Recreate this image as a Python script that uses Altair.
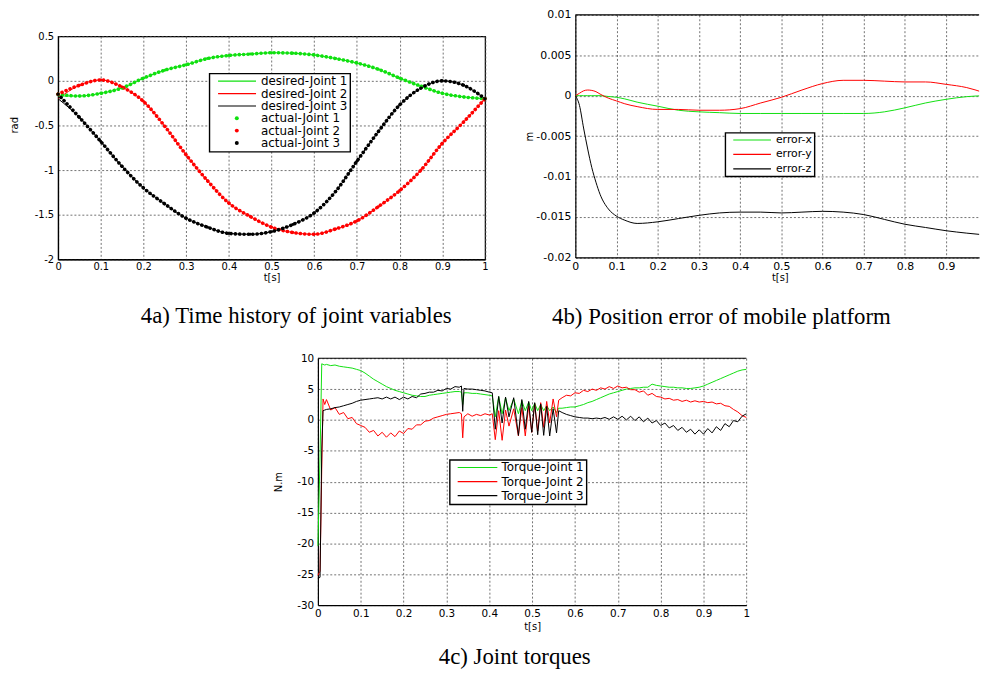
import altair as alt
import pandas as pd

FONT = "DejaVu Sans"
SERIF = "Liberation Serif"
GREEN = "#10e010"
RED = "#ff0000"
BLACK = "#000000"
GRID = "#505050"

# ---------------- 4a) joint variables ----------------
t_a = [0.0, 0.05, 0.1, 0.15, 0.2, 0.25, 0.3, 0.35, 0.4, 0.45, 0.5,
       0.55, 0.6, 0.65, 0.7, 0.75, 0.8, 0.85, 0.9, 0.95, 1.0]
act_j1 = [-0.15, -0.17, -0.14, -0.08, 0.03, 0.12, 0.18, 0.25, 0.285, 0.30, 0.315,
          0.31, 0.29, 0.25, 0.20, 0.13, 0.03, -0.06, -0.14, -0.18, -0.20]
act_j2 = [-0.15, -0.05, 0.01, -0.07, -0.23, -0.51, -0.83, -1.12, -1.37, -1.52, -1.64,
          -1.70, -1.72, -1.66, -1.57, -1.41, -1.23, -1.00, -0.70, -0.46, -0.20]
act_j3 = [-0.15, -0.41, -0.68, -0.96, -1.20, -1.38, -1.54, -1.64, -1.71, -1.72, -1.69,
          -1.61, -1.48, -1.24, -0.90, -0.57, -0.27, -0.08, 0.00, -0.05, -0.20]
des_start = [-0.17, -0.20, -0.20]
names_des = ["desired-Joint 1", "desired-Joint 2", "desired-Joint 3"]
names_act = ["actual-Joint 1", "actual-Joint 2", "actual-Joint 3"]
xt_a = [0, 0.1, 0.2, 0.3, 0.4, 0.5, 0.6, 0.7, 0.8, 0.9, 1]
yt_a = [-2, -1.5, -1, -0.5, 0, 0.5]

# ---------------- 4b) position error ----------------
t_b = [0, 0.01, 0.02, 0.03, 0.04, 0.05, 0.06, 0.08, 0.10, 0.12, 0.15, 0.20, 0.25, 0.30,
       0.35, 0.40, 0.45, 0.50, 0.55, 0.60, 0.65, 0.70, 0.75, 0.80, 0.85, 0.90, 0.95, 0.99]
err_x = [0, 0, 0, 0, 0, 0, 0, -0.0001, -0.0002, -0.0004, -0.0008, -0.0013, -0.0018, -0.0020,
         -0.0021, -0.0022, -0.0022, -0.0022, -0.0022, -0.0022, -0.0022, -0.0022, -0.0020,
         -0.0015, -0.0009, -0.00045, -0.00012, 0.0]
err_y = [0, 0.0003, 0.0006, 0.0007, 0.00065, 0.0005, 0.0002, -0.0003, -0.00065, -0.0010,
         -0.00135, -0.0017, -0.0017, -0.0018, -0.0018, -0.0016, -0.0009, -0.0002, 0.0007,
         0.0015, 0.0019, 0.0019, 0.0018, 0.0017, 0.0017, 0.0014, 0.0010, 0.0004]
err_z = [0, -0.0012, -0.0040, -0.0066, -0.0089, -0.0107, -0.0122, -0.0140, -0.0149, -0.0154,
         -0.0158, -0.0156, -0.0152, -0.0148, -0.0145, -0.0144, -0.0144, -0.0145, -0.0144,
         -0.0143, -0.0144, -0.0147, -0.0153, -0.0159, -0.0163, -0.0167, -0.0170, -0.0172]
names_b = ["error-x", "error-y", "error-z"]
xt_b = [0, 0.1, 0.2, 0.3, 0.4, 0.5, 0.6, 0.7, 0.8, 0.9]
yt_b = [-0.02, -0.015, -0.01, -0.005, 0, 0.005, 0.01]

# ---------------- 4c) joint torques ----------------
t_c = ([0.0, 0.005, 0.009, 0.012, 0.016, 0.02]
       + [round(0.03 + 0.01 * i, 3) for i in range(31)]
       + [0.335, 0.338, 0.341]
       + [round(0.35 + 0.01 * i, 3) for i in range(6)]
       + [0.407, 0.414, 0.422, 0.430, 0.438, 0.446, 0.457, 0.468, 0.476, 0.484, 0.492,
          0.499, 0.506, 0.513, 0.520, 0.527, 0.534, 0.541, 0.549, 0.557, 0.562]
       + [round(0.57 + 0.01 * i, 3) for i in range(44)])
tq_1 = ([-20.4, -6.0, 9.1, 9.0, 8.9, 9.0]
        + [8.8, 8.9, 8.7, 8.6, 8.5, 8.4, 8.2, 8.0, 7.6, 7.1,
           6.6, 6.2, 5.8, 5.4, 5.1, 4.8, 4.6, 4.4, 4.2, 4.0,
           3.9, 3.8, 3.8, 4.0, 4.1, 4.2, 4.3, 4.4, 4.5, 4.6, 4.6]
        + [4.5, 2.5, 4.4]
        + [4.4, 4.3, 4.3, 4.2, 4.1, 4.0]
        + [3.9, 0.5, 3.8, 1.0, 3.6, 1.5, 3.4, 1.0, 3.1, 1.5, 2.9,
           1.5, 2.7, 1.5, 2.5, 1.5, 2.3, 1.5, 2.1, 1.2, 1.9]
        + [1.9, 2.0, 2.1, 2.1, 2.3, 2.5, 2.8, 3.0, 3.3, 3.6,
           3.9, 4.2, 4.4, 4.6, 4.8, 5.0, 5.1, 5.2, 5.2, 5.3,
           5.3, 5.8, 5.6, 5.5, 5.4, 5.3, 5.3, 5.2, 5.2, 5.1,
           5.1, 5.2, 5.3, 5.5, 5.8, 6.1, 6.4, 6.7, 7.0, 7.3,
           7.6, 7.9, 8.1, 8.2])
tq_2 = ([-25.2, -24.5, -8.0, 3.4, 2.5, 3.3]
        + [1.6, 2.0, 0.9, 1.2, 0.2, 0.4, -0.6, -0.9, -1.2, -2.0,
           -1.7, -2.6, -2.0, -2.8, -2.1, -2.7, -1.8, -2.2, -1.4, -1.5,
           -0.8, -0.8, -0.2, -0.1, 0.3, 0.5, 0.7, 0.9, 1.0, 1.1, 1.2]
        + [1.0, -2.9, 0.5]
        + [1.0, 0.6, 0.9, 0.7, 1.0, 0.8]
        + [1.0, -3.2, 1.5, -3.3, 1.6, -1.0, 1.8, -2.6, 2.0, -2.6, 2.3,
           -2.0, 2.6, -1.8, 2.8, -1.2, 3.0, -0.5, 3.4, 0.5, 3.2]
        + [3.6, 4.0, 3.9, 4.4, 4.3, 4.8, 4.6, 5.0, 4.8, 5.2,
           5.0, 5.4, 5.1, 5.5, 5.2, 5.3, 4.9, 4.9, 4.5, 4.7,
           4.0, 4.3, 3.8, 3.7, 3.4, 3.5, 3.2, 3.3, 3.0, 3.2,
           2.9, 3.1, 2.9, 3.0, 2.8, 2.9, 2.6, 2.7, 2.3, 2.2,
           1.7, 1.3, 0.7, 0.4])
tq_3 = ([-25.7, -25.5, -5.0, 1.5, 1.6, 1.7]
        + [1.8, 2.0, 2.1, 2.3, 2.5, 2.7, 3.0, 3.2, 3.3, 3.4,
           3.5, 3.6, 3.4, 3.7, 3.4, 3.7, 3.3, 3.7, 3.4, 3.8,
           3.6, 4.2, 4.3, 4.5, 4.5, 4.8, 4.7, 5.1, 5.0, 5.4, 5.3]
        + [5.5, 1.4, 5.1]
        + [5.0, 5.0, 4.9, 4.8, 4.7, 4.5]
        + [4.4, -1.5, 3.8, -0.5, 3.7, 0.5, 3.6, -2.5, 3.3, -1.5, 3.0,
           -2.0, 2.8, -2.4, 2.6, -2.5, 2.2, -2.6, 1.8, -2.1, 1.5]
        + [1.2, 0.9, 0.7, 0.5, 0.4, 0.3, 0.3, 0.2, 0.3, 0.2,
           0.4, 0.1, 0.5, 0.1, 0.6, 0.0, 0.6, -0.1, 0.5, -0.3,
           0.3, -0.5, -0.1, -0.9, -0.5, -1.3, -0.9, -1.7, -1.2, -2.0,
           -1.5, -2.3, -1.6, -2.3, -1.4, -2.1, -1.1, -1.7, -0.6, -1.1,
           -0.1, -0.3, 0.6, 1.0])
names_c = ["Torque-Joint 1", "Torque-Joint 2", "Torque-Joint 3"]
xt_c = [0, 0.1, 0.2, 0.3, 0.4, 0.5, 0.6, 0.7, 0.8, 0.9, 1]
yt_c = [-30, -25, -20, -15, -10, -5, 0, 5, 10]


def long_df(t, series, names, key):
    rows = []
    for name, vals in zip(names, series):
        for tt, vv in zip(t, vals):
            rows.append({"t": tt, "v": vv, key: name})
    return pd.DataFrame(rows)


df_des = long_df(t_a, [[des_start[0]] + act_j1[1:], [des_start[1]] + act_j2[1:],
                       [des_start[2]] + act_j3[1:]], names_des, "sa")
df_act = long_df(t_a, [act_j1, act_j2, act_j3], names_act, "sa")
df_b = long_df(t_b, [err_x, err_y, err_z], names_b, "sb")
df_c = long_df(t_c, [tq_1, tq_2, tq_3], names_c, "sc")


def axis(values, title, fs, pad, **kw):
    return alt.Axis(values=values, labelExpr="'' + datum.value", title=title,
                    grid=True, gridColor=GRID, gridDash=[2, 2], gridWidth=0.8, gridOpacity=1,
                    domain=True, domainColor="black", domainWidth=1.2,
                    ticks=False, tickSize=0, labelFont=FONT, labelFontSize=fs,
                    labelColor="black", labelPadding=pad, labelFlush=False, labelOverlap=False,
                    titleFont=FONT, titleFontSize=10, titleFontWeight="normal",
                    titleColor="black", titleBaseline="middle", **kw)


def legend(x, y, fs, rowpad, sym_len, sym_off, lab_off, pad, clip_h, **kw):
    base = dict(orient="none", legendX=x, legendY=y, title=None, direction="vertical",
                strokeColor="black", fillColor="white", padding=pad, cornerRadius=0,
                labelFont=FONT, labelFontSize=fs, labelColor="black", labelLimit=300,
                symbolType="stroke", symbolSize=sym_len ** 2, symbolStrokeWidth=1.2,
                symbolOffset=sym_off, labelOffset=lab_off, rowPadding=rowpad, clipHeight=clip_h,
                zindex=1)
    base.update(kw)
    return alt.Legend(**base)


def caption(text, dx, offset):
    return alt.TitleParams(text=text, orient="bottom", anchor="middle", frame="group",
                           dx=dx, offset=offset, font=SERIF, fontSize=23,
                           fontWeight="normal", color="black", baseline="top")


def spacer(w, h):
    return alt.Chart(pd.DataFrame({"s": [0]})).mark_point(
        opacity=0, size=1, filled=True, strokeWidth=0).properties(width=w, height=h)


def indep(c):
    return c.resolve_scale(color="independent", fill="independent", stroke="independent")


# ---- panel 4a
A_FS, A_RP = 12, -0.5
leg_a = legend(152.7, 37.6, A_FS, A_RP, 38.3, 5.85, 4.15, 2, 11.5)
col_a = alt.Color("sa:N",
                  scale=alt.Scale(domain=names_des + names_act,
                                  range=[GREEN, RED, BLACK, "transparent", "transparent", "transparent"]),
                  legend=leg_a)
leg_dots = alt.Legend(orient="none", legendX=152.7, legendY=37.6 + 3 * 12.45, title=None,
                      direction="vertical", padding=2, labelFont=FONT, labelFontSize=A_FS,
                      labelExpr="''", labelColor="black", labelLimit=300, symbolType="circle",
                      symbolSize=16, symbolStrokeWidth=0, symbolOpacity=1,
                      symbolOffset=19.6, labelOffset=4, rowPadding=A_RP,
                      clipHeight=11.5, zindex=2, strokeColor="transparent")
x_a = alt.X("t:Q", scale=alt.Scale(domain=[0, 1], nice=False, zero=False),
            axis=axis(xt_a, "t[s]", 10, 2.7, titleY=18.3))
y_a = alt.Y("v:Q", scale=alt.Scale(domain=[-2, 0.5], nice=False, zero=False),
            axis=axis(yt_a, "rad", 10, 4.5, titleX=-44.3, titleY=89.3))
lines_a = alt.Chart(df_des).mark_line(strokeWidth=1, interpolate="monotone").encode(
    x=x_a, y=y_a, color=col_a)
dots_a = alt.Chart(df_act).mark_line(strokeWidth=3.6, strokeDash=[0.1, 4.3],
                                     strokeCap="round", interpolate="monotone").encode(
    x=x_a, y=y_a,
    stroke=alt.Stroke("sa:N", scale=alt.Scale(domain=names_act, range=[GREEN, RED, BLACK]),
                      legend=None))
pts_a = alt.Chart(df_act).mark_circle(size=9, opacity=1).encode(
    x=x_a, y=y_a,
    fill=alt.Fill("sa:N", scale=alt.Scale(domain=names_act, range=[GREEN, RED, BLACK]),
                  legend=leg_dots))
panel_a = indep(alt.layer(lines_a, dots_a, pts_a)).properties(
    width=430.7, height=225, view={"stroke": "black", "strokeWidth": 1.2},
    title=caption("4a) Time history of joint variables", 24.9, 22.7))

# ---- panel 4b
col_b = alt.Color("sb:N", scale=alt.Scale(domain=names_b, range=[GREEN, RED, BLACK]),
                  legend=legend(151.3, 119, 11, 2.6, 38, 5, 4, 2, 10.5))
x_b = alt.X("t:Q", scale=alt.Scale(domain=[0, 0.98], nice=False, zero=False),
            axis=axis(xt_b, "t[s]", 11, 3.0, titleX=206.3, titleY=20.5))
y_b = alt.Y("v:Q", scale=alt.Scale(domain=[-0.02, 0.01], nice=False, zero=False),
            axis=axis(yt_b, "m", 11, 4.4, titleX=-46))
lines_b = alt.Chart(df_b).mark_line(strokeWidth=1, clip=True, interpolate="monotone").encode(
    x=x_b, y=y_b, color=col_b)
top_b = alt.Chart(pd.DataFrame({"v": [yt_b[-1]]})).mark_rule(
    color="black", strokeWidth=1.2).encode(y=y_b)
panel_b = alt.layer(lines_b, top_b).properties(
    width=407.3, height=244.7,
    title=caption("4b) Position error of mobile platform", -56.3, 23.7))

# ---- panel 4c
col_c = alt.Color("sc:N", scale=alt.Scale(domain=names_c, range=[GREEN, RED, BLACK]),
                  legend=legend(133, 102.5, 12, 1.2, 40, 5, 3.3, 2, 11.5))
x_c = alt.X("t:Q", scale=alt.Scale(domain=[0, 1], nice=False, zero=False),
            axis=axis(xt_c, "t[s]", 10.5, 3.8, titleY=21.6))
y_c = alt.Y("v:Q", scale=alt.Scale(domain=[-30, 10], nice=False, zero=False),
            axis=axis(yt_c, "N.m", 10.5, 4.3, titleX=-39.8))
lines_c = alt.Chart(df_c).mark_line(strokeWidth=1).encode(x=x_c, y=y_c, color=col_c)
top_c = alt.Chart(pd.DataFrame({"v": [yt_c[-1]]})).mark_rule(
    color="black", strokeWidth=1.2).encode(y=y_c)
panel_c = alt.layer(lines_c, top_c).properties(
    width=432.2, height=249, title=caption("4c) Joint torques", -17.5, 14.5))

col_a_stack = indep(alt.vconcat(spacer(1, 1), panel_a, spacing=14.6))
row1 = indep(alt.hconcat(col_a_stack, panel_b, spacing=30.8))
row2 = indep(alt.hconcat(spacer(150, 1), panel_c, spacing=66.1))
base_chart = indep(alt.vconcat(row1, row2, spacing=22.4)).properties(
    padding={"left": 0.5, "top": -3.0, "right": 0, "bottom": -2.3}
).configure_view(stroke="transparent")

try:
    chart = base_chart.configure_legend(strokeWidth=1.4)
    chart.save("out.html", embed_options={"renderer": "svg", "actions": False})
except Exception:
    chart = base_chart
    chart.save("out.html", embed_options={"renderer": "svg", "actions": False})
